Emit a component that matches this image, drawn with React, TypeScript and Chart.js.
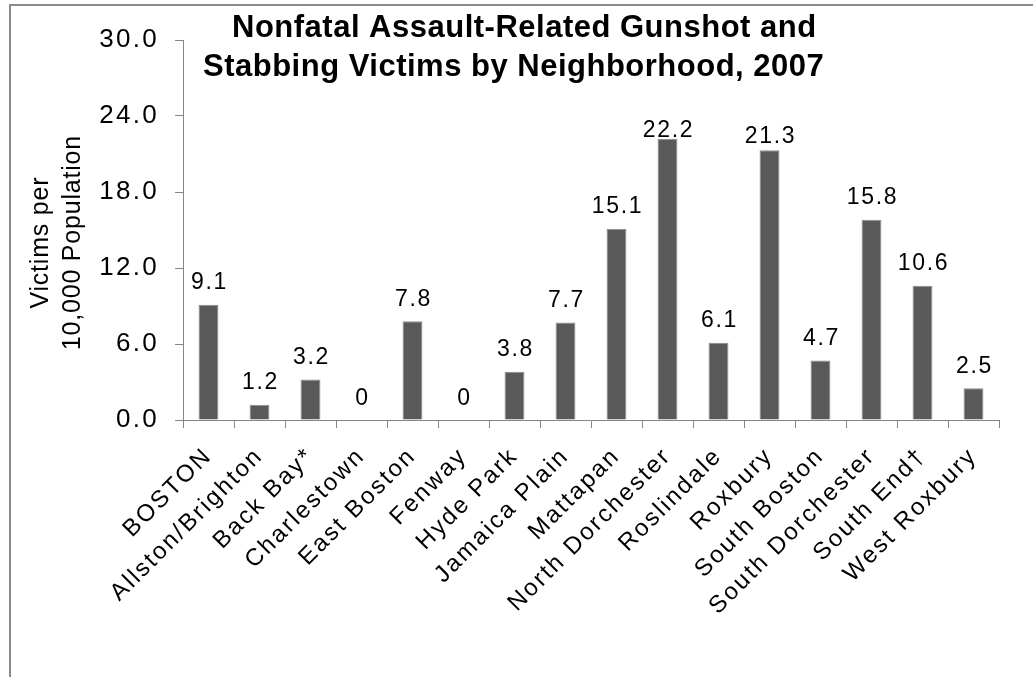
import React, { useEffect, useRef } from "react";
import { Chart, registerables } from "chart.js";

Chart.register(...registerables);

// Neighborhood rates of nonfatal assault-related gunshot and stabbing victims
const neighborhoods = [
  "BOSTON",
  "Allston/Brighton",
  "Back Bay*",
  "Charlestown",
  "East Boston",
  "Fenway",
  "Hyde Park",
  "Jamaica Plain",
  "Mattapan",
  "North Dorchester",
  "Roslindale",
  "Roxbury",
  "South Boston",
  "South Dorchester",
  "South End†",
  "West Roxbury",
];
const victimsPer10k = [9.1, 1.2, 3.2, 0, 7.8, 0, 3.8, 7.7, 15.1, 22.2, 6.1, 21.3, 4.7, 15.8, 10.6, 2.5];
const yTickValues = [0, 6, 12, 18, 24, 30];
const titleLines = ["Nonfatal Assault-Related Gunshot and", "Stabbing Victims by Neighborhood, 2007"];
const yTitleLines = ["Victims per", "10,000 Population"];

const FONT = '"Liberation Sans", Arial, Helvetica, sans-serif';
const AXIS_GRAY = "#868686";
const BAR_FILL = "#595959";
const BAR_EDGE = "#8c8c8c";

// how far each value label sits above its bar (px); a couple are tucked closer
const LABEL_LIFT = 15.5;
const LABEL_LIFT_BY_NAME: Record<string, number> = { "North Dorchester": 2, Roxbury: 7.5 };

const fmtValue = (v: number) => (v === 0 ? "0" : v.toFixed(1));

const framePlugin = {
  id: "frameAndTitles",
  beforeDraw(chart: Chart) {
    const ctx = chart.ctx;
    ctx.save();
    // outer frame
    ctx.strokeStyle = "#8a8a8a";
    ctx.lineWidth = 2;
    ctx.strokeRect(10, 5, 1100, 1100);
    ctx.restore();
    // slightly wider tracking for the library-drawn tick text
    (ctx as any).letterSpacing = "2.3px";
  },
  afterDraw(chart: Chart) {
    const ctx = chart.ctx;
    (ctx as any).letterSpacing = "0px";
    ctx.save();
    ctx.fillStyle = "#000";
    // chart title
    ctx.font = `bold 31px ${FONT}`;
    (ctx as any).letterSpacing = "0.5px";
    ctx.textAlign = "left";
    ctx.textBaseline = "alphabetic";
    ctx.fillText(titleLines[0], 232, 37);
    ctx.fillText(titleLines[1], 203, 76);
    // y-axis title, rotated
    ctx.font = `25px ${FONT}`;
    (ctx as any).letterSpacing = "0.8px";
    ctx.textAlign = "center";
    const cy = 243;
    const baselines = [48, 80];
    yTitleLines.forEach((line, i) => {
      ctx.save();
      ctx.translate(baselines[i], cy);
      ctx.rotate(-Math.PI / 2);
      ctx.fillText(line, 0.4, 0);
      ctx.restore();
    });
    ctx.restore();
  },
};

const valueLabelPlugin = {
  id: "valueLabels",
  afterDatasetsDraw(chart: Chart) {
    const ctx = chart.ctx;
    const meta = chart.getDatasetMeta(0);
    ctx.save();
    ctx.font = `23px ${FONT}`;
    (ctx as any).letterSpacing = "1.7px";
    ctx.fillStyle = "#000";
    ctx.textAlign = "center";
    ctx.textBaseline = "alphabetic";
    meta.data.forEach((bar: any, i: number) => {
      const name = neighborhoods[i];
      const lift = LABEL_LIFT_BY_NAME[name] ?? LABEL_LIFT;
      ctx.fillText(fmtValue(victimsPer10k[i]), bar.x + 1, bar.y - lift);
    });
    ctx.restore();
  },
};

export default function App() {
  const canvasRef = useRef<HTMLCanvasElement | null>(null);

  useEffect(() => {
    const canvas = canvasRef.current;
    if (!canvas) return;
    Chart.defaults.font.family = FONT;
    const chart = new Chart(canvas, {
      type: "bar",
      data: {
        labels: neighborhoods,
        datasets: [
          {
            data: victimsPer10k,
            backgroundColor: BAR_FILL,
            borderColor: BAR_EDGE,
            borderWidth: 1,
            barPercentage: 0.39,
            categoryPercentage: 1,
          },
        ],
      },
      options: {
        responsive: true,
        maintainAspectRatio: false,
        animation: false,
        events: [],
        layout: { padding: { top: 40, right: 34, left: 0, bottom: 0 } },
        plugins: {
          legend: { display: false },
          title: { display: false },
          tooltip: { enabled: false },
        },
        scales: {
          x: {
            offset: true,
            grid: {
              display: true,
              offset: true,
              drawOnChartArea: false,
              drawTicks: true,
              tickLength: 8,
              color: AXIS_GRAY,
            },
            border: { display: true, color: AXIS_GRAY, width: 1 },
            ticks: {
              autoSkip: false,
              maxRotation: 45,
              minRotation: 45,
              color: "#000",
              font: { size: 24 },
              padding: 14,
            },
            afterFit(scale: any) {
              scale.height = 257;
            },
          },
          y: {
            min: 0,
            max: 30,
            afterBuildTicks(scale: any) {
              scale.ticks = yTickValues.map((v) => ({ value: v }));
            },
            grid: {
              display: true,
              drawOnChartArea: false,
              drawTicks: true,
              tickLength: 8,
              color: AXIS_GRAY,
            },
            border: { display: true, color: AXIS_GRAY, width: 1 },
            ticks: {
              color: "#000",
              font: { size: 26 },
              padding: 16,
              callback: (v: any) => Number(v).toFixed(1),
            },
            afterFit(scale: any) {
              scale.width = 183;
            },
          },
        },
      },
      plugins: [framePlugin, valueLabelPlugin],
    });
    return () => chart.destroy();
  }, []);

  return (
    <div style={{ position: "absolute", left: 0, top: 0, width: 1033, height: 677, background: "#fff" }}>
      <canvas ref={canvasRef} style={{ display: "block" }} />
    </div>
  );
}
